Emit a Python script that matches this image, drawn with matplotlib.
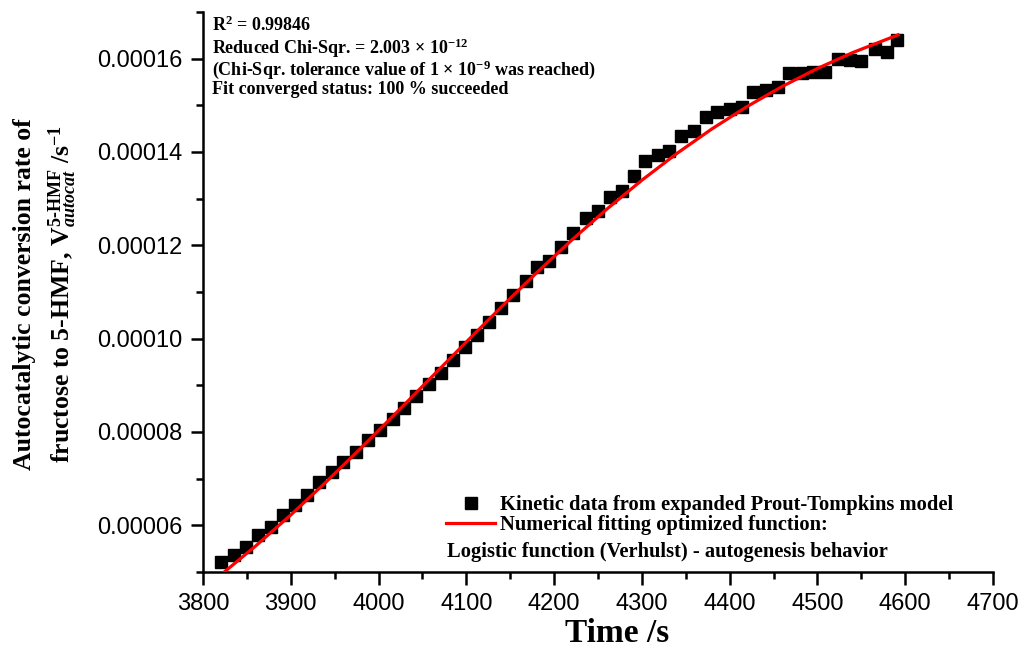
import matplotlib
matplotlib.use("Agg")
import matplotlib.pyplot as plt
from matplotlib.ticker import MultipleLocator, FormatStrFormatter
from matplotlib.lines import Line2D

# ---- data ----
time_s = [3821, 3835, 3849, 3863, 3877, 3891, 3905, 3919, 3932, 3947,
          3960, 3974, 3988, 4002, 4016, 4029, 4043, 4057, 4071, 4085,
          4098, 4112, 4126, 4140, 4153, 4168, 4181, 4194, 4208, 4222,
          4236, 4250, 4264, 4277, 4291, 4304, 4318, 4331, 4345, 4359,
          4373, 4386, 4400, 4414, 4427, 4441, 4455, 4468, 4482, 4495,
          4509, 4523, 4537, 4550, 4565, 4579, 4591]
rate = [5.209e-5, 5.372e-5, 5.544e-5, 5.796e-5, 5.974e-5, 6.232e-5, 6.434e-5, 6.649e-5, 6.935e-5, 7.151e-5,
        7.366e-5, 7.574e-5, 7.824e-5, 8.039e-5, 8.284e-5, 8.520e-5, 8.770e-5, 9.022e-5, 9.273e-5, 9.538e-5,
        9.811e-5, 1.0082e-4, 1.0361e-4, 1.0649e-4, 1.0935e-4, 1.1230e-4, 1.1531e-4, 1.1673e-4, 1.1968e-4, 1.2269e-4,
        1.2585e-4, 1.2727e-4, 1.3037e-4, 1.3168e-4, 1.3482e-4, 1.3806e-4, 1.3931e-4, 1.4026e-4, 1.4348e-4, 1.4447e-4,
        1.4742e-4, 1.4856e-4, 1.4914e-4, 1.4972e-4, 1.5280e-4, 1.5329e-4, 1.5391e-4, 1.5688e-4, 1.5703e-4, 1.5710e-4,
        1.5710e-4, 1.5989e-4, 1.5974e-4, 1.5940e-4, 1.6204e-4, 1.6146e-4, 1.6404e-4]

fit_time = [3820, 3860, 3900, 3940, 3980, 4020, 4060, 4100, 4140, 4180,
            4220, 4260, 4300, 4340, 4380, 4420, 4460, 4500, 4540, 4592]
fit_rate = [4.934e-5, 5.558e-5, 6.223e-5, 6.925e-5, 7.657e-5, 8.408e-5, 9.169e-5, 9.930e-5, 1.0681e-4, 1.1411e-4,
            1.2111e-4, 1.2775e-4, 1.3396e-4, 1.3971e-4, 1.4498e-4, 1.4976e-4, 1.5406e-4, 1.5790e-4, 1.6129e-4, 1.6511e-4]

x_ticks = [3800, 3900, 4000, 4100, 4200, 4300, 4400, 4500, 4600, 4700]

label_data = "Kinetic data from expanded Prout-Tompkins model"
label_fit = "Numerical fitting optimized function:"
label_fit2 = "Logistic function (Verhulst) - autogenesis behavior"

stats_lines = [
    r"R$^{\mathbf{2}}$ = 0.99846",
    r"Reduced Chi-Sqr. = 2.003 $\times$ 10$^{\mathbf{-12}}$",
    r"(Chi-Sqr. tolerance value of 1 $\times$ 10$^{\mathbf{-9}}$ was reached)",
    r"Fit converged status: 100 % succeeded",
]

# ---- style ----
plt.rcParams["font.family"] = ["Liberation Serif", "DejaVu Serif"]
plt.rcParams["mathtext.fontset"] = "custom"
plt.rcParams["mathtext.rm"] = "Liberation Serif:bold"
plt.rcParams["mathtext.bf"] = "Liberation Serif:bold"
plt.rcParams["mathtext.it"] = "Liberation Serif:italic:bold"
plt.rcParams["mathtext.default"] = "bf"

W, H = 1022, 648
fig = plt.figure(figsize=(W / 100, H / 100), dpi=100)
ax = fig.add_axes([203 / W, 1 - 572 / H, (993 - 203) / W, (572 - 12) / H])

ax.plot(time_s, rate, linestyle="none", marker="s", ms=8, color="black",
        mec="black", zorder=2)
ax.plot(fit_time, fit_rate, color="red", lw=2.3, zorder=3)

ax.set_xlim(3800, 4700)
ax.set_ylim(5e-5, 1.70e-4)
ax.set_xticks(x_ticks)
ax.xaxis.set_minor_locator(MultipleLocator(50))
ax.yaxis.set_major_locator(MultipleLocator(2e-5))
ax.yaxis.set_minor_locator(MultipleLocator(1e-5))
ax.yaxis.set_major_formatter(FormatStrFormatter("%.5f"))

for s in ["top", "right"]:
    ax.spines[s].set_visible(False)
for s in ["left", "bottom"]:
    ax.spines[s].set_linewidth(1.8)

ax.tick_params(which="major", direction="out", length=9, width=1.8,
               labelsize=17, labelfontfamily="Liberation Sans", pad=6)
ax.tick_params(which="minor", direction="out", length=5, width=1.8)

# axis titles
fig.text(617 / W, 1 - 634 / H, "Time /s", fontsize=24, fontweight="bold",
         ha="center", va="center")
fig.text(46 / W, 1 - 294 / H,
         "Autocatalytic conversion rate of\n"
         r"fructose to 5-HMF, V$_{\mathit{autocat}}^{\mathbf{5\text{-}HMF}}$ /s$^{\mathbf{-1}}$",
         fontsize=18.5, fontweight="bold", rotation=90, ha="center", va="center",
         multialignment="center", linespacing=1.45)

# statistics box text
for yy, t in zip([25, 48, 70, 89], stats_lines):
    fig.text(212 / W, 1 - yy / H, t, fontsize=13, fontweight="bold",
             ha="left", va="center")

# legend
handles = [Line2D([], [], linestyle="none", marker="s", ms=8, color="black"),
           Line2D([], [], color="red", lw=2.3)]
leg = fig.legend(handles, [label_data, label_fit], loc="upper left",
                 bbox_to_anchor=(446 / W, 1 - 495 / H), frameon=False,
                 prop={"family": "Liberation Serif", "weight": "bold", "size": 14.8},
                 handlelength=2.4, handletextpad=0.25, labelspacing=0.0,
                 borderpad=0, borderaxespad=0)
fig.text(447 / W, 1 - 552 / H, label_fit2, fontsize=14.8, fontweight="bold",
         ha="left", va="center")

fig.savefig("out.png", dpi=100)
